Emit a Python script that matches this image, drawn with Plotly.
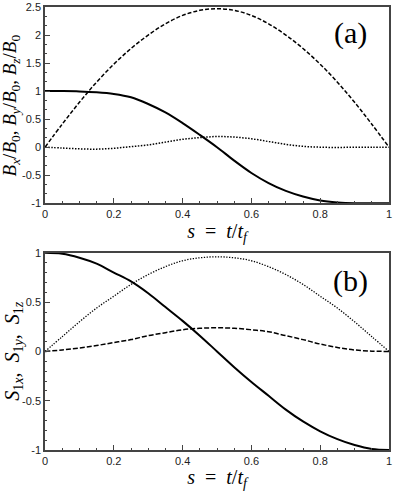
import plotly.graph_objects as go
from plotly.subplots import make_subplots

# s = t/t_f sample points
s = [0.0, 0.05, 0.1, 0.15, 0.2, 0.25, 0.3, 0.35, 0.4, 0.45, 0.5,
     0.55, 0.6, 0.65, 0.7, 0.75, 0.8, 0.85, 0.9, 0.95, 1.0]

# panel (a): field components
bx = [1.0, 1.0, 0.995, 0.98, 0.95, 0.89, 0.77, 0.62, 0.43, 0.22, 0.0,
      -0.24, -0.46, -0.64, -0.78, -0.88, -0.95, -0.985, -1.0, -1.0, -1.0]
by = [0.0, 0.41, 0.80, 1.16, 1.48, 1.76, 2.00, 2.20, 2.35, 2.44, 2.47,
      2.44, 2.35, 2.20, 2.00, 1.76, 1.48, 1.16, 0.80, 0.41, 0.0]
bz = [0.0, -0.015, -0.03, -0.035, -0.02, 0.01, 0.04, 0.09, 0.14, 0.17, 0.19,
      0.18, 0.15, 0.10, 0.05, 0.015, 0.0, -0.005, 0.0, 0.0, 0.0]

# panel (b): spin components
s1x = [1.0, 0.99, 0.95, 0.89, 0.80, 0.71, 0.59, 0.45, 0.31, 0.16, 0.0,
       -0.16, -0.31, -0.45, -0.59, -0.71, -0.81, -0.89, -0.95, -0.99, -1.0]
s1y = [0.0, 0.15, 0.30, 0.44, 0.56, 0.68, 0.78, 0.86, 0.92, 0.95, 0.96,
       0.95, 0.92, 0.86, 0.78, 0.68, 0.56, 0.44, 0.30, 0.15, 0.0]
s1z = [0.0, 0.015, 0.035, 0.06, 0.09, 0.12, 0.16, 0.19, 0.22, 0.235, 0.24,
       0.235, 0.22, 0.20, 0.16, 0.12, 0.075, 0.04, 0.015, 0.003, 0.0]

x_ticks = [0, 0.2, 0.4, 0.6, 0.8, 1]
x_labels = ["0", "0.2", "0.4", "0.6", "0.8", "1"]
ya_ticks = [-1, -0.5, 0, 0.5, 1, 1.5, 2, 2.5]
ya_labels = ["-1", "-0.5", "0", "0.5", "1", "1.5", "2", "2.5"]
yb_ticks = [-1, -0.5, 0, 0.5, 1]
yb_labels = ["-1", "-0.5", "0", "0.5", "1"]

fig = make_subplots(rows=2, cols=1, vertical_spacing=0.112)

def add(y, row, dash, width):
    fig.add_trace(go.Scatter(x=s, y=y, mode="lines", showlegend=False,
                             line=dict(color="black", width=width, dash=dash,
                                       shape="spline", smoothing=1)),
                  row=row, col=1)

add(bx, 1, "solid", 2)
add(by, 1, "4px,2px", 1.5)
add(bz, 1, "1.5px,1.5px", 1.5)
add(s1x, 2, "solid", 2)
add(s1y, 2, "1.3px,1.5px", 1.3)
add(s1z, 2, "5px,2px", 1.5)

tickfont = dict(family="Liberation Sans", size=11, color="#222")
titlefont = dict(family="Liberation Serif", size=19, color="black")
axis_common = dict(showgrid=False, zeroline=False, showline=True, mirror=True,
                   linecolor="#444", linewidth=1.5, ticks="inside", ticklen=5,
                   tickcolor="#444", tickfont=tickfont)

xt = "<i>s</i> &nbsp;= &nbsp;<i>t</i>/<i>t<sub>f</sub></i>"
for r in (1, 2):
    fig.update_xaxes(range=[0, 1], tickvals=x_ticks, ticktext=x_labels,
                     ticklabeloverflow="allow",
                     minor=dict(tickmode="linear", tick0=0, dtick=0.05,
                                ticks="inside", ticklen=2.5, tickcolor="#444"),
                     title=dict(text=xt, font=dict(family="Liberation Serif",
                                                   size=20, color="black"),
                                standoff=5),
                     row=r, col=1, **axis_common)

fig.update_yaxes(range=[-1, 2.5], tickvals=ya_ticks, ticktext=ya_labels,
                 minor=dict(tickmode="linear", tick0=-1, dtick=0.5 / 3,
                            ticks="inside", ticklen=2.5, tickcolor="#444"),
                 row=1, col=1, **axis_common)
fig.update_yaxes(range=[-1, 1], tickvals=yb_ticks, ticktext=yb_labels,
                 minor=dict(tickmode="linear", tick0=-1, dtick=0.1,
                            ticks="inside", ticklen=2.5, tickcolor="#444"),
                 row=2, col=1, **axis_common)

ya_title = ("<i>B<sub>x</sub></i>/<i>B</i><sub>0</sub>, "
            "<i>B<sub>y</sub></i>/<i>B</i><sub>0</sub>, "
            "<i>B<sub>z</sub></i>/<i>B</i><sub>0</sub>")
yb_title = ("<i>S</i><sub>1<i>x</i></sub>, &nbsp;<i>S</i><sub>1<i>y</i></sub>, "
            "&nbsp;<i>S</i><sub>1<i>z</i></sub>")

fig.add_annotation(text=ya_title, textangle=-90, xref="paper", yref="y domain",
                   x=-0.098, y=0.5, xanchor="center", yanchor="middle",
                   showarrow=False, font=titlefont)
fig.add_annotation(text=yb_title, textangle=-90, xref="paper", yref="y2 domain",
                   x=-0.092, y=0.5, xanchor="center", yanchor="middle",
                   showarrow=False,
                   font=dict(family="Liberation Serif", size=20, color="black"))
label_font = dict(family="Liberation Serif", size=30, color="black")
fig.add_annotation(text="(a)", xref="paper", yref="y domain", x=0.888, y=0.868,
                   xanchor="center", yanchor="middle", showarrow=False,
                   font=label_font)
fig.add_annotation(text="(b)", xref="paper", yref="y2 domain", x=0.888, y=0.859,
                   xanchor="center", yanchor="middle", showarrow=False,
                   font=label_font)

fig.update_layout(width=393, height=491, plot_bgcolor="white",
                  paper_bgcolor="white",
                  margin=dict(l=45, r=1, t=5, b=41))
fig.update_xaxes(domain=[0, 1])
fig.update_yaxes(domain=[0.557, 1], row=1, col=1)
fig.update_yaxes(domain=[0, 0.445], row=2, col=1)

fig.write_html("out.html", config={"displayModeBar": False},
               post_script="document.body.style.margin='0';")
